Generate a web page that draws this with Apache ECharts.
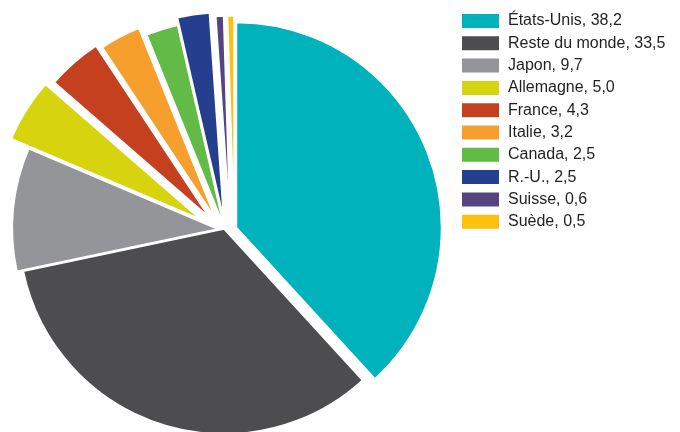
<!DOCTYPE html>
<html><head><meta charset="utf-8">
<script src="https://cdn.jsdelivr.net/npm/echarts@6/dist/echarts.min.js"></script>
<style>html,body{margin:0;padding:0;background:#fff}#c{width:680px;height:432px}</style>
</head><body><div id="c"></div>
<script>
// ---- data ----
const categories = ['États-Unis','Reste du monde','Japon','Allemagne','France','Italie','Canada','R.-U.','Suisse','Suède'];
const values = [38.2, 33.5, 9.7, 5.0, 4.3, 3.2, 2.5, 2.5, 0.6, 0.5];

// ---- styling / layout ----
const colors = ['#00b2bb','#4d4d4f','#939598','#d8d30f','#c5401f','#f79f2d','#63bb47','#253f8e','#554480','#fcc00d'];
// per-slice pie centres (explosion offsets)
const sliceCenters = [[236.5,227.5],[224,229],[217.5,229],[200,219],[209,217],[215.5,218.5],[223.5,225],[223.5,217.5],[230,221],[234,221]];
const R = 205;

const series = categories.map((owner, k) => ({
  type: 'pie',
  name: owner,
  center: sliceCenters[k],
  radius: [0, R],
  startAngle: 90,
  clockwise: true,
  silent: true,
  animation: false,
  avoidLabelOverlap: false,
  label: { show: false },
  labelLine: { show: false },
  emphasis: { disabled: true },
  data: categories.map((name, i) => ({
    name: name,
    value: values[i],
    itemStyle: i === k
      ? { color: colors[i], borderColor: '#ffffff', borderWidth: 1.5 }
      : { color: 'rgba(0,0,0,0)', borderWidth: 0 }
  }))
}));

const chart = echarts.init(document.getElementById('c'), null, { renderer: 'canvas' });
chart.setOption({
  animation: false,
  backgroundColor: '#ffffff',
  legend: {
    orient: 'vertical',
    left: 462,
    top: 13,
    padding: 0,
    itemWidth: 37,
    itemHeight: 14,
    itemGap: 6.3,
    icon: 'rect',
    selectedMode: false,
    itemStyle: { borderWidth: 0 },
    data: categories.map((name, i) => ({ name: name, itemStyle: { color: colors[i], opacity: 1, borderWidth: 0 } })),
    formatter: function (name) {
      const i = categories.indexOf(name);
      return name + ', ' + values[i].toFixed(1).replace('.', ',');
    },
    textStyle: { fontFamily: 'Liberation Sans', fontSize: 16, color: '#231f20', lineHeight: 16, padding: [0, 0, 0, 4] }
  },
  series: series
});
</script>
</body></html>
